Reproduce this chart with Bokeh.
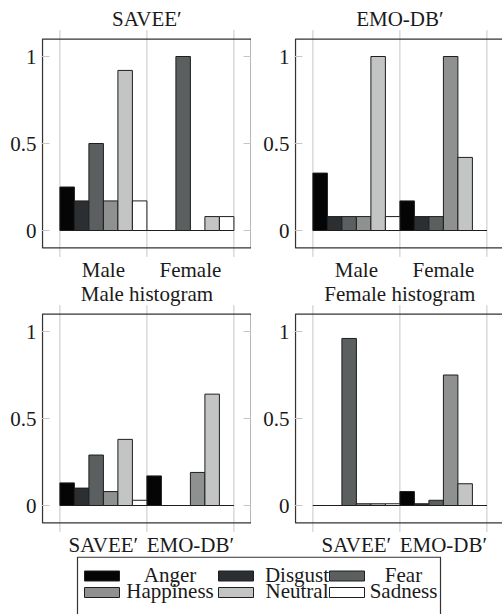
from bokeh.plotting import figure
from bokeh.layouts import column, row
from bokeh.models import FixedTicker, LinearAxis, Range1d
from bokeh.core.properties import value
from bokeh.embed import file_html
from bokeh.resources import INLINE

# ---------------- data ----------------
emotions = ["Anger", "Disgust", "Fear", "Happiness", "Neutral", "Sadness"]
colors = ["#050505", "#2c2f31", "#5b5f60", "#8f9191", "#c3c5c5", "#ffffff"]

gender_groups = ["Male", "Female"]
dataset_groups = ["SAVEE′", "EMO-DB′"]

savee_male = [0.25, 0.17, 0.50, 0.17, 0.92, 0.17]
savee_female = [0.0, 0.0, 1.0, 0.0, 0.08, 0.08]

emodb_male = [0.33, 0.08, 0.08, 0.08, 1.0, 0.08]
emodb_female = [0.17, 0.08, 0.08, 1.0, 0.42, 0.0]

male_hist_savee = [0.13, 0.10, 0.29, 0.08, 0.38, 0.03]
male_hist_emodb = [0.17, 0.0, 0.0, 0.19, 0.64, 0.0]

female_hist_savee = [0.0, 0.0, 0.96, 0.01, 0.01, 0.01]
female_hist_emodb = [0.08, 0.01, 0.03, 0.75, 0.125, 0.0]

y_ticks = [0, 0.5, 1]
y_tick_labels = ["0", "0.5", "1"]

# axis box limits (data units)
X_MIN, X_MAX = -0.2, 2.2
Y_MIN, Y_MAX = -0.1, 1.1

FONT = "'Liberation Serif', serif"
FS = "21px"
TXT = "#1a1a1a"
GRID = "#c6c6c6"
BOX = "#333333"

PX_X = 87.0    # pixels per x unit
PX_Y = 174.0   # pixels per y unit
TEXT_DY = 8.0  # text glyph baseline correction (px)


def make_panel(title, groups, group_values, border_left, width, height, zero_px, right_ticks):
    frame_w = width - border_left
    xs = X_MIN - 1.0 / PX_X
    ye = zero_px / PX_Y
    p = figure(width=width, height=height,
               x_range=Range1d(xs, xs + frame_w / PX_X),
               y_range=Range1d(ye - height / PX_Y, ye),
               output_backend="svg", toolbar_location=None,
               min_border_left=border_left, min_border_right=0,
               min_border_top=0, min_border_bottom=0,
               x_axis_location=None, y_axis_location=None)
    p.outline_line_color = None
    p.background_fill_color = "white"
    p.xgrid.grid_line_color = None
    p.ygrid.grid_line_color = None

    # vertical grid lines at group borders, sticking out of the box a little
    ext = 9.0 / PX_Y
    bounds = list(range(len(groups) + 1))
    p.segment(x0=bounds, x1=bounds, y0=[Y_MIN - ext] * len(bounds),
              y1=[Y_MAX + ext] * len(bounds), line_color=GRID, line_width=1)

    # axis box
    p.quad(left=X_MIN, right=X_MAX, bottom=Y_MIN, top=Y_MAX,
           fill_color=None, line_color=BOX, line_width=1.3)

    # bars
    n = len(emotions)
    for i, col in enumerate(colors):
        xs_c = [g + (i + 0.5) / n for g in range(len(groups))]
        tops = [vals[i] for vals in group_values]
        p.vbar(x=xs_c, top=tops, bottom=0, width=1.0 / n,
               fill_color=col, line_color="#1e1e1e", line_width=1)

    # title and category labels
    p.text(x=[len(groups) / 2], y=[Y_MAX + (12.0 + TEXT_DY) / PX_Y], text=[title],
           text_font=value(FONT), text_font_size=FS, text_color=TXT,
           text_align="center", text_baseline="alphabetic")
    p.text(x=[g + 0.5 for g in range(len(groups))],
           y=[Y_MIN - (30.0 - TEXT_DY) / PX_Y] * len(groups), text=groups,
           text_font=value(FONT), text_font_size=FS, text_color=TXT,
           text_align="center", text_baseline="alphabetic")

    # y axis with inward ticks
    yax = LinearAxis(ticker=FixedTicker(ticks=y_ticks),
                     major_label_overrides={t: s for t, s in zip(y_ticks, y_tick_labels)},
                     axis_label=None)
    yax.axis_line_color = None
    yax.major_tick_in = 8
    yax.major_tick_out = 0
    yax.major_tick_line_color = GRID
    yax.minor_tick_line_color = None
    yax.major_label_text_font = FONT
    yax.major_label_text_font_size = FS
    yax.major_label_text_color = TXT
    yax.major_label_standoff = 5
    p.add_layout(yax, "left")

    if right_ticks:
        rax = LinearAxis(ticker=FixedTicker(ticks=y_ticks),
                         major_label_overrides={t: "" for t in y_ticks},
                         axis_label=None)
        rax.axis_line_color = None
        rax.major_tick_in = 8
        rax.major_tick_out = 0
        rax.major_tick_line_color = GRID
        rax.minor_tick_line_color = None
        rax.major_label_text_font_size = "0px"
        rax.major_label_standoff = 0
        p.add_layout(rax, "right")
    return p


p1 = make_panel("SAVEE′", gender_groups, [savee_male, savee_female], 41, 251, 282, 230, True)
p2 = make_panel("EMO-DB′", gender_groups, [emodb_male, emodb_female], 43, 251, 282, 230, False)
p3 = make_panel("Male histogram", dataset_groups, [male_hist_savee, male_hist_emodb], 41, 251, 274, 223, True)
p4 = make_panel("Female histogram", dataset_groups, [female_hist_savee, female_hist_emodb], 43, 251, 274, 223, False)

# ---------------- legend (3 columns x 2 rows) ----------------
LEG_H = 58
leg = figure(width=502, height=LEG_H, output_backend="svg", toolbar_location=None,
             x_axis_type=None, y_axis_type=None, min_border=0,
             x_range=Range1d(0, 502), y_range=Range1d(LEG_H, 0))
leg.outline_line_color = None
leg.xgrid.grid_line_color = None
leg.ygrid.grid_line_color = None
leg.quad(left=77, right=440, top=0.7, bottom=LEG_H + 10,
         fill_color="white", line_color=BOX, line_width=1.2)
sw_left = [84, 218, 329]
txt_center = [169.5, 296.5, 403]
row_mid = [19.5, 36]
row_base = [26, 42]
for k, (emo, col) in enumerate(zip(emotions, colors)):
    r, c = divmod(k, 3)
    leg.quad(left=[sw_left[c]], right=[sw_left[c] + 35],
             top=[row_mid[r] - 5], bottom=[row_mid[r] + 5],
             fill_color=col, line_color="#1e1e1e", line_width=1)
    leg.text(x=[txt_center[c]], y=[row_base[r] - TEXT_DY], text=[emo],
             text_font=value(FONT), text_font_size=FS, text_color=TXT,
             text_align="center", text_baseline="alphabetic")

layout = column(row(p1, p2), row(p3, p4), leg)

open("out.html", "w").write(file_html(layout, INLINE))
